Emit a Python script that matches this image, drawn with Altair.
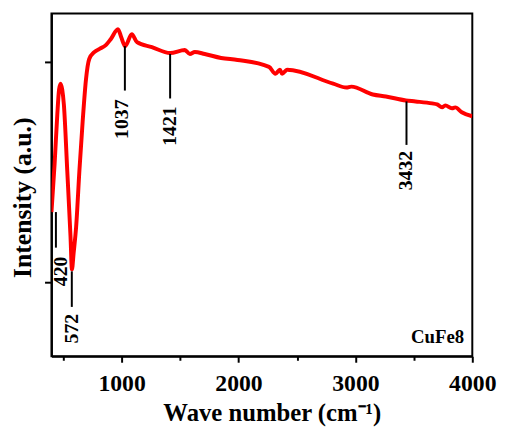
import altair as alt
import pandas as pd

# Spectrum
wavenumber = [400, 427, 450, 465, 478, 492, 506, 535, 563, 575, 590, 611, 639, 667, 695,
              723, 766, 808, 865, 907, 969, 997, 1030, 1087, 1132, 1259, 1415, 1541, 1584,
              1626, 1711, 1851, 1992, 2261, 2316, 2354, 2373, 2415, 2810, 2923, 2965, 3149,
              3261, 3431, 3515, 3656, 3699, 3741, 3769, 3826, 3854, 3910, 4000]
intensity = [146, 195, 245, 270, 276, 270, 255, 188, 121, 88, 105, 131, 188, 238, 280,
             301, 308, 311, 315, 321, 331, 323, 314, 326, 318, 313, 307, 310, 306,
             308, 306, 302, 300, 293, 286, 290, 286, 290, 276, 272, 273, 265,
             263, 259, 258, 256, 255, 252, 254, 251, 252, 247, 243]

# Peak annotations
peak_labels = ["420", "572", "1037", "1421", "3432"]
peak_line_x = [438, 574, 1028, 1415, 3437]
peak_line_top = [146, 86, 314, 306, 258]
peak_line_bottom = [110, 50, 269, 261, 214]
peak_label_x = [484, 575, 1008, 1415, 3437]
peak_label_y = [101, 43, 260, 253, 208]

sample_name = ["CuFe8"]
sample_x = [3930]
sample_y = [13]

x_ticks = [500, 1000, 1500, 2000, 2500, 3000, 3500, 4000]
y_ticks = [75, 298]

FONT = "Liberation Serif"
W, H = 426, 347

curve_df = pd.DataFrame({"wn": wavenumber, "y": intensity})
rule_df = pd.DataFrame({"wn": peak_line_x, "y": peak_line_top, "y2": peak_line_bottom})
label_df = pd.DataFrame({"wn": peak_label_x, "y": peak_label_y, "label": peak_labels})
sample_df = pd.DataFrame({"wn": sample_x, "y": sample_y, "label": sample_name})

x_scale = alt.Scale(domain=[400, 4000], nice=False, zero=False)
y_scale = alt.Scale(domain=[0, 347], nice=False, zero=False)

x_axis = alt.Axis(
    values=x_ticks,
    format="d",
    labelExpr="datum.value % 1000 === 0 ? datum.label : ''",
    tickSize={"condition": {"test": "datum.value % 1000 === 0", "value": 6}, "value": 4},
    labelPadding=10,
    labelFlush=False,
    labelOverlap=False,
    title="Wave number (cm\u207b\u00b9)",
    titleFontSize=25,
    titleX=223,
    titleY=65,
    titleAlign="center",
    titleBaseline="alphabetic",
)
y_axis = alt.Axis(
    values=y_ticks,
    labels=False,
    tickSize=7,
    title="Intensity (a.u.)",
    titleFontSize=26,
    titleAngle=270,
    titleX=-29,
    titleY=186,
    titleAlign="center",
    titleBaseline="middle",
)

line = alt.Chart(curve_df).mark_line(
    color="#ff0000", strokeWidth=4, interpolate="monotone", clip=True
).encode(
    x=alt.X("wn:Q", scale=x_scale, axis=x_axis),
    y=alt.Y("y:Q", scale=y_scale, axis=y_axis),
)

rules = alt.Chart(rule_df).mark_rule(color="black", strokeWidth=2).encode(
    x=alt.X("wn:Q"), y=alt.Y("y:Q"), y2="y2:Q"
)

labels = alt.Chart(label_df).mark_text(
    angle=270, align="right", baseline="middle", font=FONT, fontWeight="bold",
    fontSize=20, color="black"
).encode(x=alt.X("wn:Q"), y=alt.Y("y:Q"), text="label:N")

sample = alt.Chart(sample_df).mark_text(
    align="right", baseline="alphabetic", font=FONT, fontWeight="bold",
    fontSize=19, color="black"
).encode(x=alt.X("wn:Q"), y=alt.Y("y:Q"), text="label:N")

chart = alt.layer(line, rules, labels, sample).properties(
    width=W,
    height=H,
    autosize=alt.AutoSizeParams(type="none"),
    padding={"left": 44, "top": 3, "right": 25, "bottom": 70},
).configure_view(
    stroke="black", strokeWidth=2
).configure_axis(
    grid=False,
    domainColor="black",
    domainWidth=2,
    tickColor="black",
    tickWidth=2,
    labelFont=FONT,
    titleFont=FONT,
    labelFontWeight="bold",
    titleFontWeight="bold",
    labelFontSize=24,
    labelColor="black",
    titleColor="black",
)

chart.save("out.html", embed_options={"renderer": "svg", "actions": False})
